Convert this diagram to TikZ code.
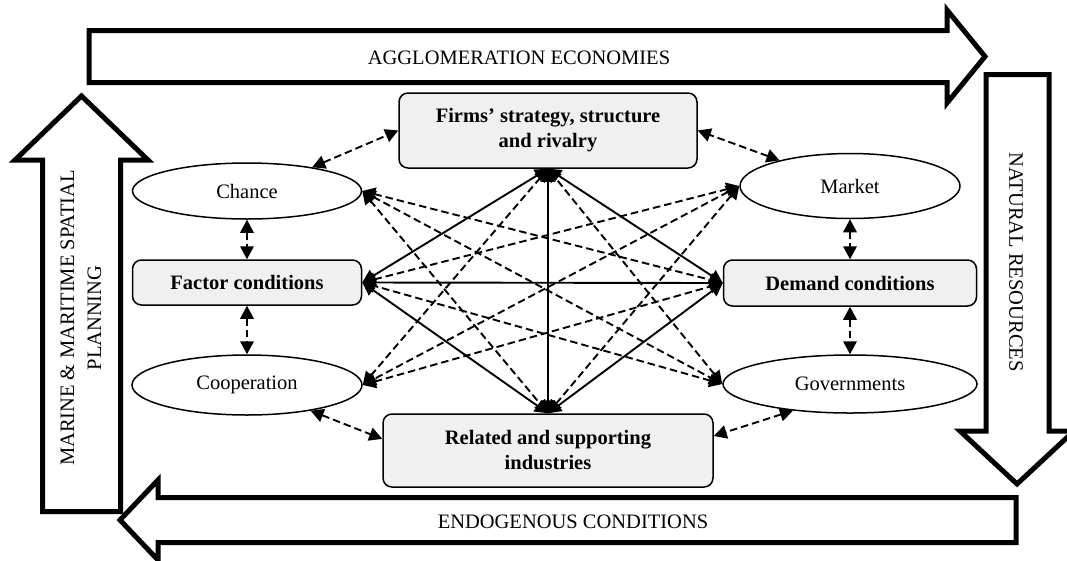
\documentclass[tikz,border=0pt]{standalone}
\usepackage{fontspec}
\setmainfont{Liberation Serif}
\usetikzlibrary{arrows.meta,shapes.geometric,calc}
\definecolor{boxgray}{RGB}{240,240,240}
\begin{document}
\begin{tikzpicture}[x=1pt,y=-1pt,
  every node/.style={font=\fontsize{20.5}{25}\selectfont},
  bigarrow/.style={draw=black,fill=white,line width=5pt,line join=miter,miter limit=10},
  arrowtext/.style={inner sep=0pt,align=center,font=\fontsize{20.5}{27}\selectfont},
  keybox/.style={draw,line width=1.5pt,rounded corners=9pt,fill=boxgray,align=center,
    inner sep=0pt,font=\bfseries\fontsize{20.5}{25}\selectfont},
  oval/.style={draw,ellipse,line width=1.5pt,fill=white,inner sep=0pt},
  link/.style={line width=1.9pt,{Triangle[length=13pt,width=13.5pt]}-{Triangle[length=13pt,width=13.5pt]}},
  dlink/.style={link,dash pattern=on 7.5pt off 4pt},
]
\clip (0,0) rectangle (1067,560);
\fill[white] (0,0) rectangle (1067,560);

% surrounding block arrows
\draw[bigarrow] (89,30.5) -- (947,30.5) -- (947,10) -- (985,56.5) -- (947,103) -- (947,82.5) -- (89,82.5) -- cycle;
\draw[bigarrow] (986,74.5) -- (1049,74.5) -- (1049,431) -- (1074,431) -- (1017,484) -- (960,431) -- (986,431) -- cycle;
\draw[bigarrow] (42.5,511.5) -- (42.5,160) -- (15,160) -- (81.5,96) -- (148,160) -- (120.5,160) -- (120.5,511.5) -- cycle;
\draw[bigarrow] (1016,497.5) -- (1016,542.5) -- (158,542.5) -- (158,560) -- (120,520) -- (158,480) -- (158,497.5) -- cycle;

\node[arrowtext] (agg) at (519,58) {AGGLOMERATION ECONOMIES};
\node[arrowtext,rotate=-90] (nat) at (1016,262) {NATURAL RESOURCES};
\node[arrowtext] (endo) at (573,522) {ENDOGENOUS CONDITIONS};
\node[arrowtext,rotate=90] (msp) at (81,318) {MARINE \& MARITIME SPATIAL\\PLANNING};

% diamond of determinants
\node[keybox,minimum width=298pt,minimum height=75pt] (Firms) at (548,130.5) {Firms’ strategy, structure\\and rivalry};
\node[keybox,minimum width=229pt,minimum height=45pt] (Factor) at (247,282.5) {Factor conditions};
\node[keybox,minimum width=253pt,minimum height=46pt] (Demand) at (850,283) {Demand conditions};
\node[keybox,minimum width=330pt,minimum height=73pt] (Related) at (548,450.5) {Related and supporting\\industries};

% additional factors
\node[oval,minimum width=229pt,minimum height=56pt] (Chance) at (247,191) {Chance};
\node[oval,minimum width=220pt,minimum height=65pt] (Market) at (850,186) {Market};
\node[oval,minimum width=230pt,minimum height=60pt] (Cooperation) at (247,385) {Cooperation};
\node[oval,minimum width=254pt,minimum height=58pt] (Governments) at (850,384) {Governments};

% solid links between the four determinants
\foreach \a/\b in {Firms.south/Factor.east, Firms.south/Demand.west, Firms.south/Related.north,
                   Factor.east/Demand.west, Factor.east/Related.north, Demand.west/Related.north}
  \draw[link] (\a) -- (\b);

% dashed cross links
\foreach \a/\b in {Chance.east/Demand.west, Chance.east/Related.north, Chance.east/Governments.west,
                   Market.west/Factor.east, Market.west/Related.north, Market.west/Cooperation.east,
                   Cooperation.east/Firms.south, Cooperation.east/Demand.west,
                   Governments.west/Firms.south, Governments.west/Factor.east}
  \draw[dlink] (\a) -- (\b);

% dashed links around the outside
\foreach \a/\b in {Chance.20/Firms.west, Market.160/Firms.east,
                   Chance.south/Factor.north, Factor.south/Cooperation.north,
                   Market.south/Demand.north, Demand.south/Governments.north,
                   Cooperation.-22/Related.176, Governments.205/Related.5}
  \draw[dlink] (\a) -- (\b);
\end{tikzpicture}
\end{document}
